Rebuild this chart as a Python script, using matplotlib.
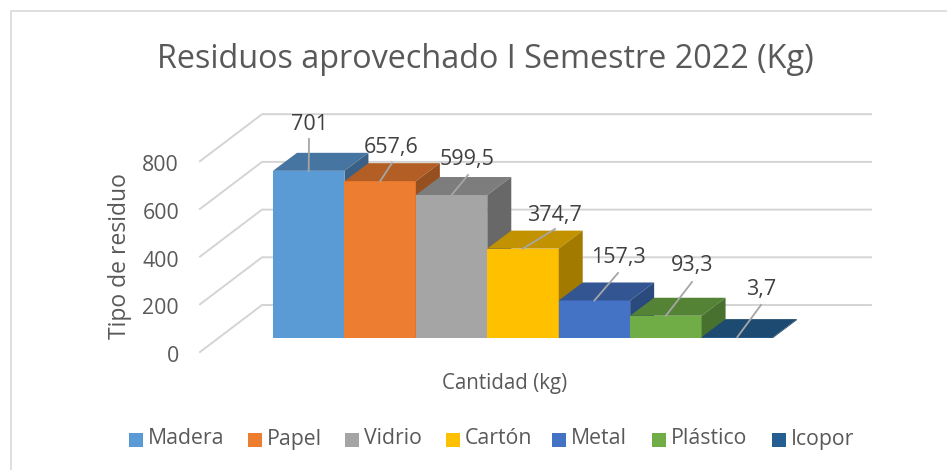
import matplotlib
matplotlib.use('Agg')
import matplotlib.pyplot as plt
from matplotlib.patches import Polygon, Rectangle

materiales = ['Madera', 'Papel', 'Vidrio', 'Cartón', 'Metal', 'Plástico', 'Icopor']
cantidades = [701, 657.6, 599.5, 374.7, 157.3, 93.3, 3.7]
etiquetas = ['701', '657,6', '599,5', '374,7', '157,3', '93,3', '3,7']
colores = ['#5B9BD5', '#ED7D31', '#A5A5A5', '#FFC000', '#4472C4', '#70AD47', '#255E91']
colores_top = ['#4675A1', '#B25E25', '#7D7D7D', '#C29200', '#335693', '#558336', '#1C4A70']
colores_lado = ['#3A6185', '#964F1F', '#686868', '#A27A00', '#2A4A7E', '#48702E', '#183F5F']
ticks_y = [0, 200, 400, 600, 800]

W, H = 947, 470
PX_X = 71.43   # px por barra
PX_Y = 0.2385  # px por kg
X0, Y0 = 273, 338  # esquina de la primera barra

plt.rcParams['font.family'] = ['Open Sans', 'DejaVu Sans']

fig = plt.figure(figsize=(W / 100, H / 100), dpi=100)
ax = fig.add_axes([0, 0, 1, 1])
ax.set_xlim(-X0 / PX_X, (W - X0) / PX_X)
ax.set_ylim(-(H - Y0) / PX_Y, Y0 / PX_Y)
ax.axis('off')


def dx(px):
    return px / PX_X


def dy(px):
    return px / PX_Y


# marco exterior (solo arriba e izquierda)
ax.plot([dx(10.5 - X0), dx(10.5 - X0), dx(947 - X0)],
        [dy(Y0 - 470), dy(Y0 - 10.5), dy(Y0 - 10.5)], color='#D9D9D9', lw=1.2)

# rejilla: pared lateral y pared del fondo
for t in ticks_y:
    y_back = t + dy(338 - 305)
    y_front = t - dy(352 - 338)
    ax.plot([dx(200 - X0), dx(262 - X0), dx(871 - X0)], [y_front, y_back, y_back],
            color='#D4D4D4', lw=1.4, solid_joinstyle='miter', zorder=1)
    ax.text(dx(179 - X0), y_front - dy(4.5), str(t), ha='right', va='center',
            fontsize=15.3, color='#595959')

# barras
DX, DY = dx(24), dy(18)
for i, (v, c, ct, cl) in enumerate(zip(cantidades, colores, colores_top, colores_lado)):
    ax.bar(i, v, width=1, align='edge', color=c, zorder=2 + i)
    ax.add_patch(Polygon([(i, v), (i + 1, v), (i + 1 + DX, v + DY), (i + DX, v + DY)],
                         fc=ct, ec='none', zorder=2 + i))
    ax.add_patch(Polygon([(i + 1, 0), (i + 1 + DX, DY), (i + 1 + DX, v + DY), (i + 1, v)],
                         fc=cl, ec='none', zorder=2 + i))

# etiquetas de datos con linea guia
pos_etiqueta = [(309, 125), (391, 148), (467, 160), (555, 215), (618, 258), (692, 266), (761, 290)]
pos_guia = [(309, 139), (392, 163), (468, 175), (555, 229), (618, 273), (692, 282), (761, 305)]
for i, v in enumerate(cantidades):
    xp, yp = pos_guia[i]
    ax.plot([i + 0.5, dx(xp - X0)], [v, dy(Y0 - yp)], color='#A6A6A6', lw=1.3, zorder=20)
    xt, yt = pos_etiqueta[i]
    ax.text(dx(xt - X0), dy(Y0 - yt), etiquetas[i], ha='center', va='center',
            fontsize=15.5, color='#404040', zorder=21)

# titulos
ax.text(dx(485 - X0), dy(Y0 - 59), 'Residuos aprovechado I Semestre 2022 (Kg)', ha='center',
        va='center', fontsize=23.3, color='#595959')
ax.text(dx(505 - X0), dy(Y0 - 384), 'Cantidad (kg)', ha='center', va='center',
        fontsize=14.8, color='#595959')
ax.text(dx(120 - X0), dy(Y0 - 256), 'Tipo de residuo', ha='center', va='center',
        rotation=90, fontsize=16.5, color='#595959')

# leyenda
ley_x = [129, 248, 345, 446, 552, 652, 772]
for x, nombre, c in zip(ley_x, materiales, colores):
    ax.add_patch(Rectangle((dx(x - X0), dy(Y0 - 447)), dx(14), dy(14), fc=c, ec='none'))
    ax.text(dx(x + 19 - X0), dy(Y0 - 439), nombre, ha='left', va='center',
            fontsize=15.3, color='#595959')

fig.savefig('out.png', dpi=100)
